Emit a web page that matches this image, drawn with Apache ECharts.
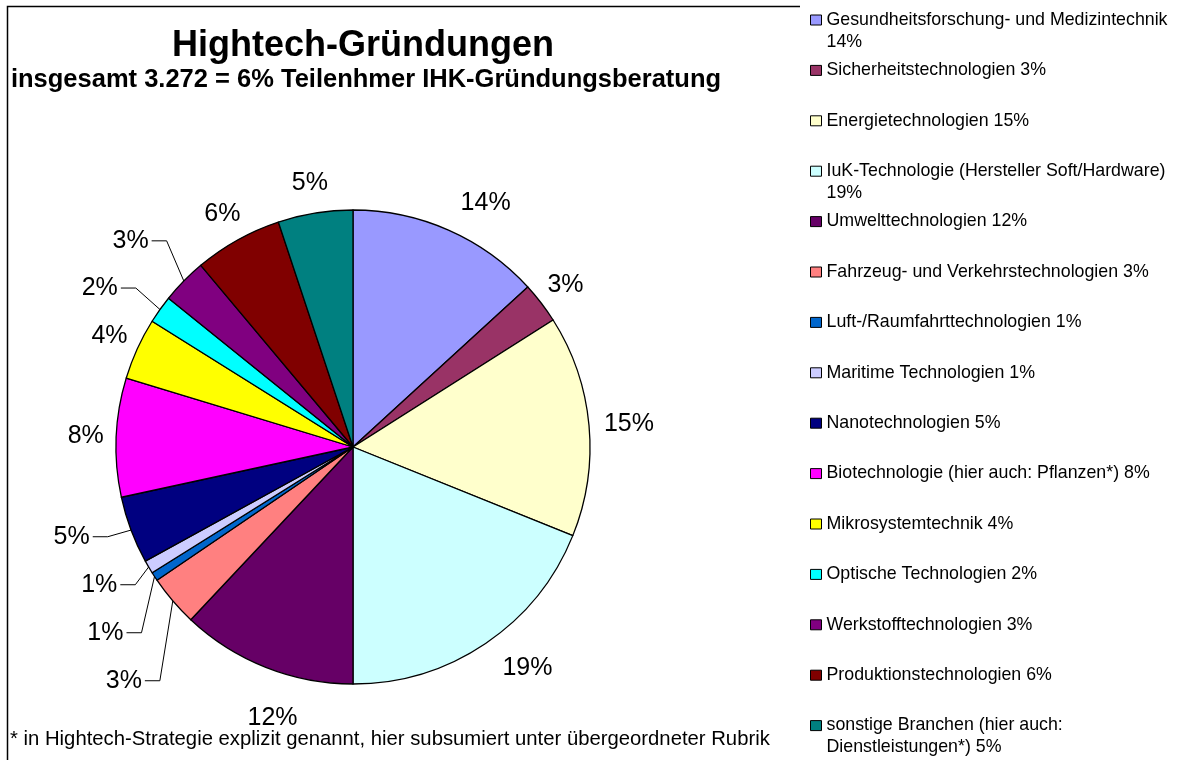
<!DOCTYPE html>
<html>
<head>
<meta charset="utf-8">
<title>Hightech-Gründungen</title>
<script src="https://cdn.jsdelivr.net/npm/echarts@6/dist/echarts.min.js"></script>
<style>
  html, body { margin: 0; padding: 0; background: #fff; }
  #chart { width: 1181px; height: 760px; }
</style>
</head>
<body>
<div id="chart"></div>
<script>
// Branchen, im Uhrzeigersinn ab 12 Uhr
var branchen = [
    'Gesundheitsforschung- und Medizintechnik',
    'Sicherheitstechnologien',
    'Energietechnologien',
    'IuK-Technologie (Hersteller Soft/Hardware)',
    'Umwelttechnologien',
    'Fahrzeug- und Verkehrstechnologien',
    'Luft-/Raumfahrttechnologien',
    'Maritime Technologien',
    'Nanotechnologien',
    'Biotechnologie (hier auch: Pflanzen*)',
    'Mikrosystemtechnik',
    'Optische Technologien',
    'Werkstofftechnologien',
    'Produktionstechnologien',
    'sonstige Branchen (hier auch: Dienstleistungen*)'
];
var anteile = [13.2, 2.8, 15.1, 18.9, 12.0, 3.5, 0.6, 0.9, 4.6, 8.1, 4.2, 1.9, 3.1, 6.0, 5.1];
// gerundete Angaben, wie im Diagramm beschriftet
var beschriftung = [14, 3, 15, 19, 12, 3, 1, 1, 5, 8, 4, 2, 3, 6, 5];

var farben = ['#9999FF', '#993366', '#FFFFCC', '#CCFFFF', '#660066', '#FF8080', '#0066CC',
    '#CCCCFF', '#000080', '#FF00FF', '#FFFF00', '#00FFFF', '#800080', '#800000', '#008080'];

// Lage der Prozentbeschriftungen, angelehnt an die Vorlage
//  mitte  = Text mittig ausserhalb des Sektors
//  aussen = Text beginnt am Ende der (unsichtbaren) Linie
//  linie  = mit Fuehrungslinie, zeile = Zeilenhoehe (Abstand der Beschriftungen)
//  rand   = mittig auf fester Einrueckung vom linken Rand
var lage = {
    'Gesundheitsforschung- und Medizintechnik': { art: 'aussen', laenge: 30 },
    'Sicherheitstechnologien': { art: 'mitte', laenge: 30 },
    'Energietechnologien': { art: 'aussen', laenge: 15 },
    'IuK-Technologie (Hersteller Soft/Hardware)': { art: 'aussen', laenge: 30 },
    'Umwelttechnologien': { art: 'rand', laenge: 30, abstand: 272 },
    'Fahrzeug- und Verkehrstechnologien': { art: 'linie', laenge: 17, zeile: 46 },
    'Luft-/Raumfahrttechnologien': { art: 'linie', laenge: 11.5, zeile: 46 },
    'Maritime Technologien': { art: 'linie', laenge: 1, zeile: 46 },
    'Nanotechnologien': { art: 'linie', laenge: 19, zeile: 46 },
    'Biotechnologie (hier auch: Pflanzen*)': { art: 'mitte', laenge: 30 },
    'Mikrosystemtechnik': { art: 'mitte', laenge: 30 },
    'Optische Technologien': { art: 'linie', laenge: 37, zeile: 24 },
    'Werkstofftechnologien': { art: 'linie', laenge: 61, zeile: 24 },
    'Produktionstechnologien': { art: 'mitte', laenge: 30 },
    'sonstige Branchen (hier auch: Dienstleistungen*)': { art: 'mitte', laenge: 30 }
};

var schrift = '"Liberation Sans", Arial, sans-serif';

// Legendentext umbrechen wie im Original (ca. 42 Zeichen pro Zeile)
function umbrechen(text) {
    if (text.length <= 42) return [text];
    var pos = text.lastIndexOf(' ', 42);
    return [text.slice(0, pos), text.slice(pos + 1)];
}

// Text mittig in einer 1px breiten Box
function mittig(zeilenHoehe) {
    return {
        width: 1,
        overflow: 'none',
        formatter: function (p) { return '{c|' + beschriftung[p.dataIndex] + '%}'; },
        rich: { c: { align: 'center', fontFamily: schrift, fontSize: 25, color: '#000', lineHeight: zeilenHoehe } }
    };
}

function sektor(n, i) {
    var l = lage[n];
    var item = { name: n, value: anteile[i] };
    if (l.art === 'linie') {
        item.label = { lineHeight: l.zeile, distanceToLabelLine: 3 };
        item.labelLine = { show: true, length: l.laenge, length2: 15 };
    } else if (l.art === 'mitte') {
        item.label = mittig(26);
        item.label.distanceToLabelLine = 0;
        item.labelLine = { show: false, length: l.laenge, length2: 0 };
    } else if (l.art === 'rand') {
        item.label = mittig(2);
        item.label.alignTo = 'edge';
        item.label.edgeDistance = l.abstand;
        item.labelLine = { show: false, length: l.laenge, length2: 0 };
    } else {
        item.label = { distanceToLabelLine: 0 };
        item.labelLine = { show: false, length: l.laenge, length2: 0 };
    }
    return item;
}

var myChart = echarts.init(document.getElementById('chart'));

var option = {
    animation: false,
    color: farben,
    title: [
        {
            text: 'Hightech-Gründungen',
            left: 363, top: 28, textAlign: 'center', padding: 0,
            textStyle: { fontFamily: schrift, fontSize: 36, fontWeight: 'bold', color: '#000', lineHeight: 36 }
        },
        {
            text: 'insgesamt 3.272 = 6% Teilenhmer IHK-Gründungsberatung',
            left: 366, top: 67, textAlign: 'center', padding: 0,
            textStyle: { fontFamily: schrift, fontSize: 25.5, fontWeight: 'bold', color: '#000', lineHeight: 25 }
        },
        {
            text: '* in Hightech-Strategie explizit genannt, hier subsumiert unter übergeordneter Rubrik',
            left: 10, top: 729, padding: 0,
            textStyle: { fontFamily: schrift, fontSize: 20.3, fontWeight: 'normal', color: '#000', lineHeight: 21 }
        }
    ],
    legend: {
        orient: 'vertical',
        left: 810,
        top: -13,
        height: 1000,
        padding: 0,
        itemWidth: 11,
        itemHeight: 10,
        itemGap: -15.6,
        icon: 'rect',
        itemStyle: { borderColor: '#000', borderWidth: 1 },
        textStyle: { fontFamily: schrift, fontSize: 17.8, lineHeight: 22, color: '#000' },
        formatter: function (name) {
            var i = branchen.indexOf(name);
            var zeilen = umbrechen(name + ' ' + beschriftung[i] + '%');
            // leere erste Zeile, damit das Symbol auf Hoehe der ersten Textzeile sitzt
            return '\n' + zeilen[0] + '\n' + (zeilen[1] || '');
        },
        data: branchen
    },
    graphic: [
        {
            type: 'polyline',
            shape: { points: [[7.5, 770], [7.5, 6.5], [800, 6.5]] },
            style: { stroke: '#000', lineWidth: 1.5, fill: null },
            silent: true
        }
    ],
    series: [
        {
            type: 'pie',
            center: [353, 447],
            radius: 237,
            startAngle: 90,
            clockwise: true,
            avoidLabelOverlap: true,
            itemStyle: { borderColor: '#000', borderWidth: 1.3 },
            label: {
                show: true,
                position: 'outside',
                fontFamily: schrift,
                fontSize: 25,
                color: '#000',
                formatter: function (p) { return beschriftung[p.dataIndex] + '%'; }
            },
            labelLine: {
                lineStyle: { color: '#000', width: 1 }
            },
            emphasis: { scale: false },
            data: branchen.map(sektor)
        }
    ]
};

myChart.setOption(option);
</script>
</body>
</html>
